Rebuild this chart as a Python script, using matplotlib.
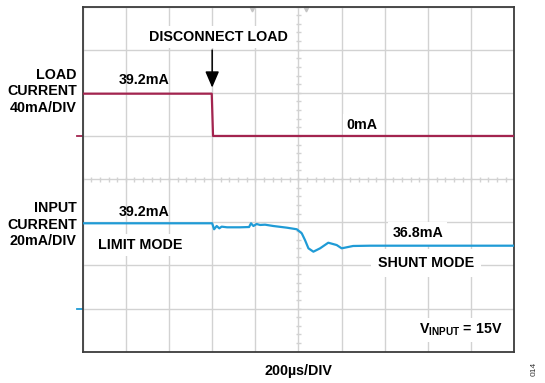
import numpy as np
import matplotlib as mpl
mpl.use('Agg')
from matplotlib import pyplot as plt

plt.rcParams['font.family'] = ['Liberation Sans', 'DejaVu Sans']
plt.rcParams['font.weight'] = 'bold'
plt.rcParams['mathtext.fontset'] = 'custom'
plt.rcParams['mathtext.rm'] = 'Liberation Sans:bold'
plt.rcParams['mathtext.bf'] = 'Liberation Sans:bold'

# 时间轴 200us/DIV，共10格
t_div = 200
n_xdiv, n_ydiv = 10, 8

# 负载电流 (mA)，600us 处断开负载
load_t = [0, 598, 604, 2000]
load_ma = [39.2, 39.2, 0.0, 0.0]

# 输入电流 (mA)，限流模式 -> 分流模式
in_t = [0, 600, 609, 621, 633, 644, 669, 729, 771, 780, 791, 806, 822, 845, 883,
        946, 992, 1015, 1030, 1046, 1069, 1100, 1138, 1177, 1200, 1253, 1332, 2000]
in_ma = [39.2, 39.2, 38.56, 38.91, 38.66, 38.84, 38.77, 38.77, 38.80, 39.20, 38.91,
         39.12, 39.02, 39.05, 38.91, 38.73, 38.56, 38.13, 37.41, 36.52, 36.16, 36.52,
         37.12, 36.87, 36.52, 36.77, 36.80, 36.8]

load_color = '#a3244f'
in_color = '#1f9bd6'
grid_color = '#d2d2d2'

fig = plt.figure(figsize=(5.45, 3.83), dpi=100)
ax = fig.add_axes([0.1517, 0.0817, 0.792, 0.9013])

# 示波器网格
ax.set_xlim(0, n_xdiv * t_div)
ax.set_ylim(0, n_ydiv)
ax.set_xticks(np.arange(0, n_xdiv * t_div + 1, t_div))
ax.set_yticks(np.arange(0, n_ydiv + 1))
ax.grid(True, color=grid_color, lw=1.0, zorder=0)
ax.set_axisbelow(True)
ax.tick_params(length=0, labelbottom=False, labelleft=False)
for s in ax.spines.values():
    s.set_color('#3c3c3c')
    s.set_linewidth(1.3)

# 中心线上的小刻度
mx = np.arange(0, n_xdiv * t_div + 1, t_div / 5)
my = np.arange(0, n_ydiv + 0.01, 0.2)
ax.vlines(mx, n_ydiv / 2 - 0.06, n_ydiv / 2 + 0.06, color=grid_color, lw=1.0, zorder=0)
ax.hlines(my, n_xdiv * t_div / 2 - 13, n_xdiv * t_div / 2 + 13, color=grid_color, lw=1.0, zorder=0)

# 顶部触发标记
ax.plot([783, 1034], [7.94, 7.94], ls='none', marker='v', ms=3.5, color='#c4c4c4', clip_on=False)

# 通道零点标记
ax.plot([-26, -4], [5, 5], color=load_color, lw=1.3, clip_on=False)
ax.plot([-26, -4], [1, 1], color=in_color, lw=1.3, clip_on=False)

# 负载电流 40mA/DIV
ax_load = ax.twinx()
ax_load.set_ylim(-5 * 40, 3 * 40)
ax_load.set_axis_off()
ax_load.plot(load_t, load_ma, color=load_color, lw=1.6, solid_joinstyle='round')

# 输入电流
ax_in = ax.twinx()
in_lo, in_per_div = 25.45, 4.62
ax_in.set_ylim(in_lo, in_lo + n_ydiv * in_per_div)
ax_in.set_axis_off()
ax_in.plot(in_t, in_ma, color=in_color, lw=1.6, solid_joinstyle='round')

fs = 10.3
box = dict(fc='white', ec='none', pad=3)
ax.text(-28, 6.04, 'LOAD\nCURRENT\n40mA/DIV', ha='right', va='center', fontsize=fs,
        linespacing=1.22, multialignment='right')
ax.text(-28, 2.94, 'INPUT\nCURRENT\n20mA/DIV', ha='right', va='center', fontsize=fs,
        linespacing=1.22, multialignment='right')
ax.text(628, 7.30, 'DISCONNECT LOAD', ha='center', va='center', fontsize=fs, bbox=box)
ax.annotate('', xy=(600, 6.12), xytext=(600, 6.99),
            arrowprops=dict(arrowstyle='-|>,head_length=0.7,head_width=0.3', color='black',
                            lw=1.1, mutation_scale=14, shrinkA=0, shrinkB=0))
ax.text(284, 6.30, '%.1fmA' % load_ma[0], ha='center', va='center', fontsize=fs)
ax.text(1295, 5.25, '%.0fmA' % load_ma[-1], ha='center', va='center', fontsize=fs, bbox=box)
ax.text(284, 3.24, '%.1fmA' % in_ma[0], ha='center', va='center', fontsize=fs)
ax.text(268, 2.47, 'LIMIT MODE', ha='center', va='center', fontsize=fs, bbox=box)
ax.text(1552, 2.74, '%.1fmA' % in_ma[-1], ha='center', va='center', fontsize=fs, bbox=box)
ax.text(1589, 2.06, 'SHUNT MODE', ha='center', va='center', fontsize=fs,
        bbox=dict(fc='white', ec='none', pad=5))
ax.text(1947, 0.50, r'$\mathbf{V_{INPUT}}$ = 15V', ha='right', va='center', fontsize=fs, bbox=box)
ax.text(1000, -0.44, '200µs/DIV', ha='center', va='center', fontsize=fs, clip_on=False)
ax.text(2092, -0.40, '014', ha='center', va='center', fontsize=6, rotation=90,
        fontweight='normal', color='#333333', clip_on=False)

fig.savefig('out.png', dpi=100)
